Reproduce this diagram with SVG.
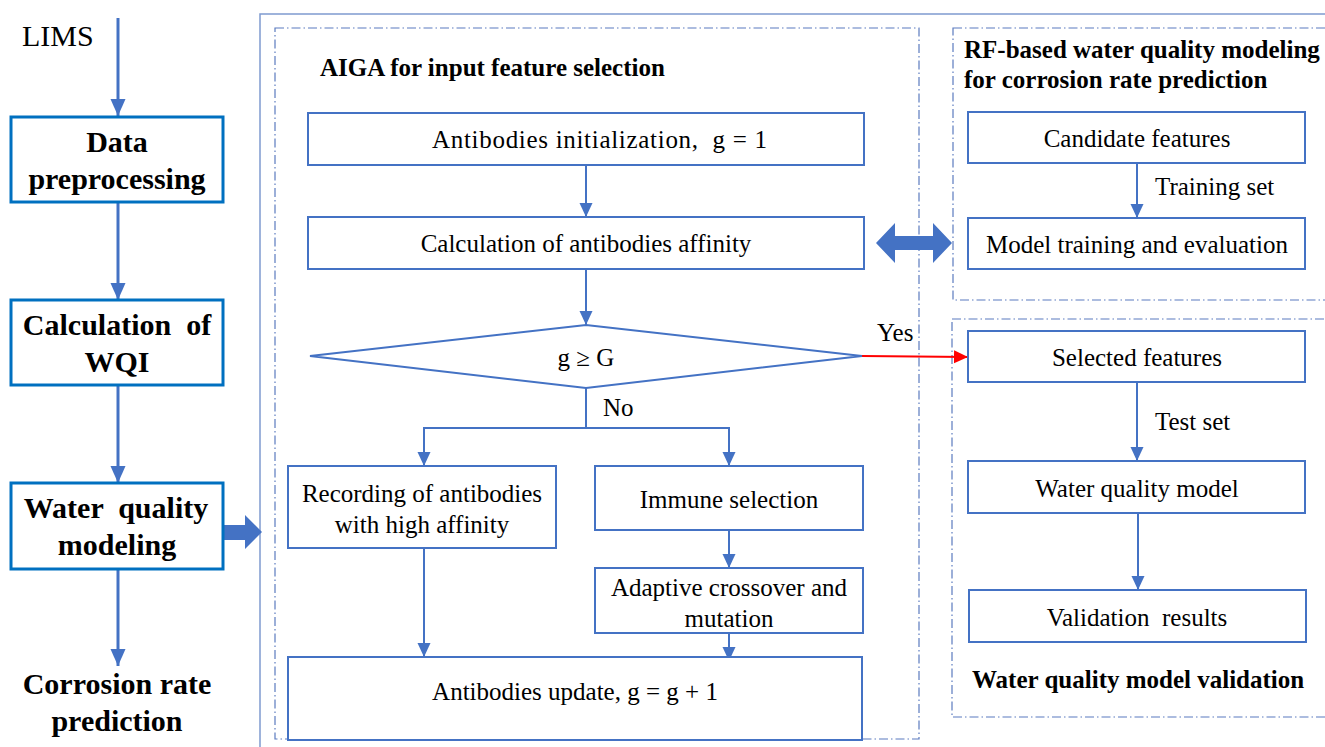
<svg xmlns="http://www.w3.org/2000/svg" width="1325" height="747" viewBox="0 0 1325 747">
<style>
.bg{fill:#ffffff}
.lbox{fill:#ffffff;stroke:#0070C0;stroke-width:3}
.box{fill:#ffffff;stroke:#4472C4;stroke-width:2}
.dash{fill:none;stroke:#5B7BBF;stroke-width:1.2;stroke-dasharray:9,3,1.5,3}
.outer{fill:none;stroke:#7F9BD0;stroke-width:1.5}
.t{font-family:"Liberation Serif","Times New Roman",serif;font-size:25px;fill:#000}
.tb{font-family:"Liberation Serif","Times New Roman",serif;font-size:25px;font-weight:bold;fill:#000}
.lb{font-family:"Liberation Serif","Times New Roman",serif;font-size:30px;font-weight:bold;fill:#000}
.c{text-anchor:middle}
.ln{fill:none;stroke:#4472C4;stroke-width:2}
.lnL{fill:none;stroke:#4472C4;stroke-width:3}
.red{fill:none;stroke:#FF0000;stroke-width:2}
.blk{fill:#4472C4;stroke:none}
</style>
<defs>
<marker id="ah" markerUnits="userSpaceOnUse" markerWidth="14" markerHeight="16" refX="14" refY="6.5" orient="auto">
<path d="M0,0 L14,6.5 L0,13 Z" fill="#4472C4"/>
</marker>
<marker id="ahL" markerUnits="userSpaceOnUse" markerWidth="18" markerHeight="18" refX="17" refY="7.5" orient="auto">
<path d="M0,0 L17,7.5 L0,15 Z" fill="#4472C4"/>
</marker>
<marker id="ahR" markerUnits="userSpaceOnUse" markerWidth="14" markerHeight="16" refX="14" refY="6.5" orient="auto">
<path d="M0,0 L14,6.5 L0,13 Z" fill="#FF0000"/>
</marker>
</defs>
<rect class="bg" x="0" y="0" width="1325" height="747"/>

<g id="frame">
<rect class="outer" x="260" y="14" width="1100" height="800"/>
</g>
<g id="aiga-group">
<rect class="dash" x="275" y="28" width="644" height="711"/>
<text class="tb" x="320" y="76">AIGA for input feature selection</text>
</g>
<g id="rf-group">
<rect class="dash" x="953" y="28" width="400" height="272"/>
<text class="tb" x="964" y="58">RF-based water quality modeling</text>
<text class="tb" x="964" y="88">for corrosion rate prediction</text>
</g>
<g id="val-group">
<rect class="dash" x="952" y="319" width="400" height="398"/>
<text class="tb" x="972" y="688">Water quality model validation</text>
</g>

<g id="connectors">
<line class="lnL" x1="118" y1="18" x2="118" y2="116" marker-end="url(#ahL)"/>
<line class="lnL" x1="118" y1="202" x2="118" y2="300" marker-end="url(#ahL)"/>
<line class="lnL" x1="118" y1="385" x2="118" y2="483" marker-end="url(#ahL)"/>
<line class="lnL" x1="118" y1="569" x2="118" y2="666" marker-end="url(#ahL)"/>
<path class="blk" d="M224,525 L245,525 L245,515 L262,532 L245,549 L245,540 L224,540 Z"/>
<line class="ln" x1="586" y1="165" x2="586" y2="217" marker-end="url(#ah)"/>
<line class="ln" x1="586" y1="269" x2="586" y2="325" marker-end="url(#ah)"/>
<polyline class="ln" points="586,388 586,428 424,428 424,466" marker-end="url(#ah)"/>
<polyline class="ln" points="586,428 729,428 729,466" marker-end="url(#ah)"/>
<line class="ln" x1="729" y1="530" x2="729" y2="568" marker-end="url(#ah)"/>
<line class="ln" x1="729" y1="633" x2="729" y2="661" marker-end="url(#ah)"/>
<line class="ln" x1="424" y1="548" x2="424" y2="657" marker-end="url(#ah)"/>
<line class="red" x1="862" y1="356" x2="968" y2="357" marker-end="url(#ahR)"/>
<path class="blk" d="M876,243 L895,223 L895,236 L933,236 L933,223 L952,243 L933,263 L933,250 L895,250 L895,263 Z"/>
<line class="ln" x1="1137" y1="163" x2="1137" y2="218" marker-end="url(#ah)"/>
<line class="ln" x1="1137" y1="382" x2="1137" y2="461" marker-end="url(#ah)"/>
<line class="ln" x1="1138" y1="513" x2="1138" y2="590" marker-end="url(#ah)"/>
<text class="t" x="877" y="341">Yes</text>
<text class="t" x="603" y="416">No</text>
<text class="t" x="1155" y="195">Training set</text>
<text class="t" x="1155" y="430">Test set</text>
</g>

<g id="lims"><text class="t" x="22" y="46" style="font-size:30px">LIMS</text></g>
<g id="data-preprocessing">
<rect class="lbox" x="11" y="117" width="212" height="85"/>
<text class="lb c" x="117" y="152">Data</text>
<text class="lb c" x="117" y="189">preprocessing</text>
</g>
<g id="calc-wqi">
<rect class="lbox" x="11" y="300" width="212" height="85"/>
<text class="lb c" x="117" y="335" xml:space="preserve">Calculation  of</text>
<text class="lb c" x="117" y="372">WQI</text>
</g>
<g id="wq-modeling">
<rect class="lbox" x="11" y="483" width="212" height="86"/>
<text class="lb c" x="116" y="518" xml:space="preserve">Water  quality</text>
<text class="lb c" x="117" y="555">modeling</text>
</g>
<g id="corrosion">
<text class="lb c" x="117" y="694">Corrosion rate</text>
<text class="lb c" x="117" y="731">prediction</text>
</g>

<g id="ab-init">
<rect class="box" x="308" y="113" width="556" height="52"/>
<text class="t" x="432" y="148" textLength="335" xml:space="preserve">Antibodies initialization,  g = 1</text>
</g>
<g id="ab-affinity">
<rect class="box" x="308" y="217" width="556" height="52"/>
<text class="t c" x="586" y="252">Calculation of antibodies affinity</text>
</g>
<g id="decision">
<polygon class="box" points="310,356 586,325 862,356 586,388"/>
<text class="t c" x="586" y="366">g ≥ G</text>
</g>
<g id="recording">
<rect class="box" x="288" y="466" width="268" height="82"/>
<text class="t c" x="422" y="502">Recording of antibodies</text>
<text class="t c" x="422" y="533">with high affinity</text>
</g>
<g id="immune">
<rect class="box" x="595" y="466" width="268" height="64"/>
<text class="t c" x="729" y="508">Immune selection</text>
</g>
<g id="crossover">
<rect class="box" x="595" y="568" width="268" height="65"/>
<text class="t c" x="729" y="596">Adaptive crossover and</text>
<text class="t c" x="729" y="627">mutation</text>
</g>
<g id="ab-update">
<rect class="box" x="288" y="657" width="574" height="83"/>
<text class="t c" x="575" y="700">Antibodies update, g = g + 1</text>
</g>

<g id="candidate">
<rect class="box" x="968" y="112" width="337" height="51"/>
<text class="t c" x="1137" y="147">Candidate features</text>
</g>
<g id="training">
<rect class="box" x="968" y="218" width="337" height="51"/>
<text class="t c" x="1137" y="253">Model training and evaluation</text>
</g>
<g id="selected">
<rect class="box" x="968" y="331" width="337" height="51"/>
<text class="t c" x="1137" y="366">Selected features</text>
</g>
<g id="wq-model">
<rect class="box" x="968" y="461" width="337" height="52"/>
<text class="t c" x="1137" y="497">Water quality model</text>
</g>
<g id="validation">
<rect class="box" x="969" y="590" width="337" height="52"/>
<text class="t c" x="1137" y="626" xml:space="preserve">Validation  results</text>
</g>
</svg>
